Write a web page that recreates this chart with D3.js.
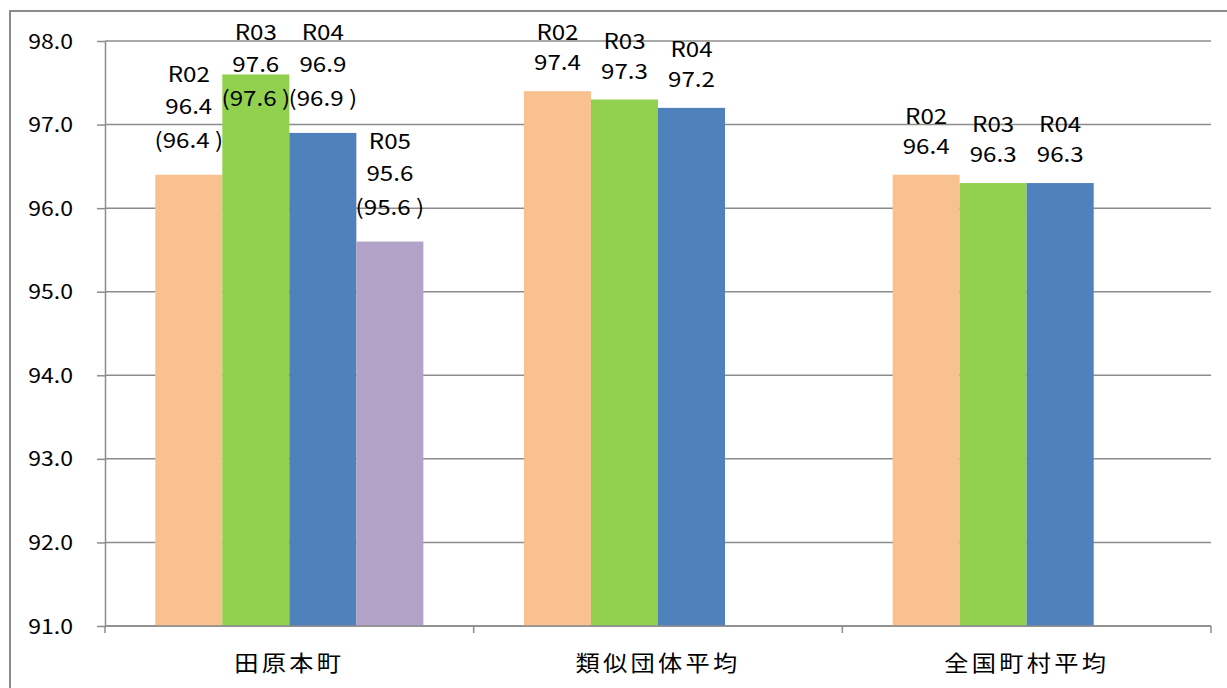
<!DOCTYPE html>
<html>
<head>
<meta charset="utf-8">
<script src="https://cdn.jsdelivr.net/npm/d3@7"></script>
<style>
  body { margin: 0; background: #fff; }
  text { font-family: "Noto Sans CJK JP", "Noto Sans", sans-serif; fill: #000; }
</style>
</head>
<body>
<div class="canvas"></div>
<script>
// chart data
const categories = ['田原本町', '類似団体平均', '全国町村平均'];
const years = ['R02', 'R03', 'R04', 'R05'];
const colors = ['#F9C090', '#92D050', '#4F81BD', '#B2A2C7'];
const r02 = [96.4, 97.4, 96.4];
const r03 = [97.6, 97.3, 96.3];
const r04 = [96.9, 97.2, 96.3];
const r05 = [95.6, null, null];
// values shown in brackets (only for 田原本町)
const r02Note = [96.4, null, null];
const r03Note = [97.6, null, null];
const r04Note = [96.9, null, null];
const r05Note = [95.6, null, null];
const yTicks = [91, 92, 93, 94, 95, 96, 97, 98];

const seriesValues = [r02, r03, r04, r05];
const seriesNotes = [r02Note, r03Note, r04Note, r05Note];

const width = 1227, height = 688;
const margin = {top: 41, right: 16, bottom: 62, left: 105};
const sx = 1.15; // text is a bit wide in the original

const svg = d3.select('.canvas')
  .append('svg')
    .attr('width', width)
    .attr('height', height);

// outer border
svg.append('rect')
  .attr('x', 10).attr('y', 11)
  .attr('width', width + 20).attr('height', height + 20)
  .attr('fill', 'none')
  .attr('stroke', '#8c8c8c')
  .attr('stroke-width', 2);

const x = d3.scaleBand()
  .domain(categories)
  .range([margin.left, width - margin.right]);

// slots inside each category (4 years, empty slot stays empty)
const xs = d3.scaleBand()
  .domain(years)
  .range([0, x.bandwidth()])
  .paddingOuter(0.75)
  .paddingInner(0);

const y = d3.scaleLinear()
  .domain([91, 98])
  .range([height - margin.bottom, margin.top]);

// gridlines
svg.append('g')
  .selectAll('line')
  .data(yTicks)
  .enter().append('line')
    .attr('x1', margin.left)
    .attr('x2', width - margin.right)
    .attr('y1', d => y(d))
    .attr('y2', d => y(d))
    .attr('stroke', '#8c8c8c')
    .attr('stroke-width', 1.5);

// y axis
const yAxis = d3.axisLeft(y)
  .tickValues(yTicks)
  .tickFormat(d => d.toFixed(1))
  .tickSizeInner(8)
  .tickSizeOuter(0)
  .tickPadding(0);

const yAxisGroup = svg.append('g')
  .attr('transform', `translate(${margin.left}, 0)`)
  .call(yAxis);
yAxisGroup.selectAll('path, line').attr('stroke', '#8c8c8c').attr('stroke-width', 1.5);
yAxisGroup.selectAll('text')
  .attr('x', null)
  .attr('transform', `translate(-32, 0) scale(${sx}, 1)`)
  .attr('dy', '0.35em')
  .style('font-size', '20px');

// bars
const bars = [];
categories.forEach((c, ci) => {
  years.forEach((yr, si) => {
    const v = seriesValues[si][ci];
    if (v != null) bars.push({cat: c, yr, si, v, note: seriesNotes[si][ci], x0: x(c) + xs(yr)});
  });
});

svg.append('g')
  .selectAll('rect')
  .data(bars)
  .enter().append('rect')
    .attr('x', d => d.x0)
    .attr('y', d => y(d.v))
    .attr('width', xs.bandwidth())
    .attr('height', d => y(91) - y(d.v))
    .attr('fill', d => colors[d.si]);

// x axis
const xAxisGroup = svg.append('g');
xAxisGroup.append('line')
  .attr('x1', margin.left).attr('x2', width - margin.right)
  .attr('y1', y(91)).attr('y2', y(91))
  .attr('stroke', '#8c8c8c').attr('stroke-width', 1.5);
const bounds = categories.map(c => x(c)).concat([x.range()[1]]);
xAxisGroup.selectAll('line.tick')
  .data(bounds)
  .enter().append('line')
    .attr('class', 'tick')
    .attr('x1', d => d).attr('x2', d => d)
    .attr('y1', y(91)).attr('y2', y(91) + 7)
    .attr('stroke', '#8c8c8c').attr('stroke-width', 1.5);
xAxisGroup.selectAll('text')
  .data(categories)
  .enter().append('text')
    .attr('transform', d => `translate(${x(d) + x.bandwidth() / 2}, 663) scale(1.1, 1)`)
    .attr('dy', '0.35em')
    .attr('text-anchor', 'middle')
    .style('font-size', '22px')
    .style('letter-spacing', '3px')
    .text(d => d);

// data labels
const labels = svg.append('g');
bars.forEach(d => {
  const lines = [d.yr, d.v.toFixed(1)];
  if (d.note != null) lines.push('(' + d.note.toFixed(1) + ' )');
  const offs = lines.length === 3 ? [-66, -34, 0] : [-30, 0];
  const lastGap = lines.length === 3 ? 34 : 28;
  let base = y(d.v) - lastGap;
  if (base + offs[0] < 33) base = 33 - offs[0];
  const cx = d.x0 + xs.bandwidth() / 2;
  lines.forEach((t, i) => {
    labels.append('text')
      .attr('transform', `translate(${cx}, ${base + offs[i]}) scale(${sx}, 1)`)
      .attr('dy', '0.35em')
      .attr('text-anchor', 'middle')
      .style('font-size', '21px')
      .text(t);
  });
});
</script>
</body>
</html>
